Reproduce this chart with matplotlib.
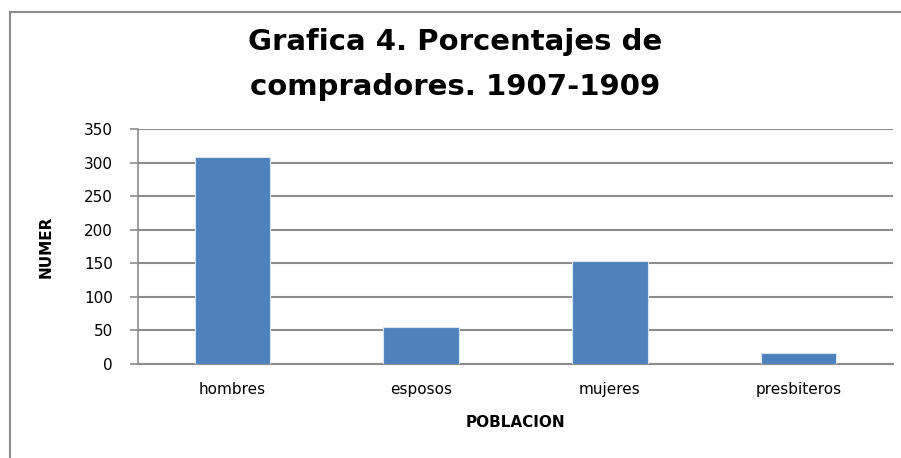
import matplotlib.pyplot as plt
from matplotlib.patches import Rectangle

categorias = ['hombres', 'esposos', 'mujeres', 'presbiteros']
compradores = [308, 55, 154, 16]
ticks_y = [0, 50, 100, 150, 200, 250, 300, 350]

plt.rcParams['font.family'] = ['DejaVu Sans']

fig = plt.figure(figsize=(9.01, 4.58), dpi=100)
W, H = 901, 458

# marco gris del grafico
fig.patches.append(Rectangle((10 / W, -0.05), 1.0, (H - 12) / H + 0.05,
                             transform=fig.transFigure, fill=False,
                             edgecolor='#8c8c8c', linewidth=1.5))

ax = fig.add_axes([138 / W, (H - 364) / H, (893 - 138) / W, (364 - 129) / H])
x = range(len(categorias))
ax.bar(x, compradores, width=0.4, color='#4f81bd', edgecolor='#dbe5f1',
       linewidth=0.8, zorder=3)

ax.set_xlim(-0.5, len(categorias) - 0.5)
ax.set_ylim(0, 350)
ax.set_yticks(ticks_y)
ax.set_yticklabels([str(t) for t in ticks_y], fontsize=11)
ax.set_xticks(list(x))
ax.set_xticklabels(categorias, fontsize=11)
ax.tick_params(axis='x', length=0, pad=13)
ax.tick_params(axis='y', length=6, width=1.2, color='#8c8c8c', pad=12)
ax.grid(axis='y', color='#8c8c8c', linewidth=1.5, zorder=0)

for s in ['top', 'right']:
    ax.spines[s].set_visible(False)
ax.spines['left'].set_color('#8c8c8c')
ax.spines['bottom'].set_color('#8c8c8c')
ax.spines['left'].set_linewidth(1.2)
ax.spines['bottom'].set_linewidth(1.5)

ax.set_xlabel('POBLACION', fontsize=11, fontweight='bold', labelpad=13)
ax.set_ylabel('NUMER', fontsize=11, fontweight='bold', labelpad=22)

fig.text(455 / W, 1 - 42 / H, 'Grafica 4. Porcentajes de', ha='center',
         va='center', fontsize=21, fontweight='bold')
fig.text(455 / W, 1 - 87 / H, 'compradores. 1907-1909', ha='center',
         va='center', fontsize=21, fontweight='bold')

fig.savefig('out.png', dpi=100)
